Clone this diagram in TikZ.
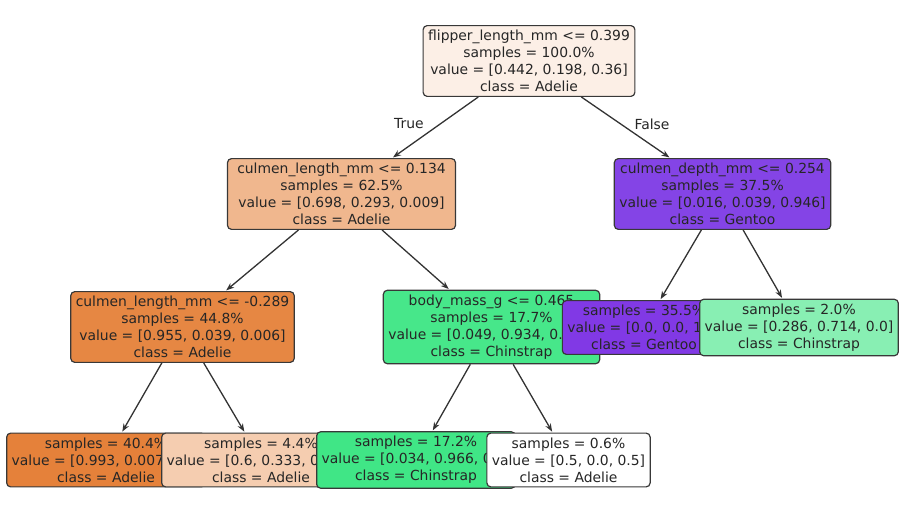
\documentclass[tikz,border=0pt]{standalone}
\usepackage{fontspec}
\setmainfont{DejaVu Sans}
\usetikzlibrary{arrows.meta}

\definecolor{boxline}{RGB}{56,56,56}
\definecolor{rootfill}{RGB}{252,239,230}
\definecolor{adeliemid}{RGB}{240,183,142}
\definecolor{adeliedark}{RGB}{230,135,67}
\definecolor{adeliefull}{RGB}{229,129,58}
\definecolor{adelielight}{RGB}{245,205,176}
\definecolor{gentoodark}{RGB}{132,68,230}
\definecolor{gentoofull}{RGB}{129,57,229}
\definecolor{chinstrapdark}{RGB}{71,231,138}
\definecolor{chinstrapfull}{RGB}{64,230,134}
\definecolor{chinstraplight}{RGB}{136,239,179}

\tikzset{
    treenode/.style={draw=boxline, line width=1.2pt, rounded corners=4pt,
        align=center, inner xsep=5pt, inner ysep=4.5pt,
        font=\fontsize{13.9}{17}\selectfont, text=black!85},
    treeedge/.style={draw=black!80, line width=1.3pt, -{Stealth[length=8pt,width=6pt]}, shorten >=1pt},
    edgelabel/.style={font=\fontsize{13.9}{17}\selectfont, text=black!85}
}

\begin{document}
\begin{tikzpicture}[x=1pt, y=-1pt]

        \useasboundingbox (0,0) rectangle (917,516);

        % tree nodes, drawn in preorder so that later boxes cover earlier ones
        \node[treenode, fill=rootfill] (root) at (529,61)
            {flipper\_length\_mm <= 0.399\\samples = 100.0\%\\value = [0.442, 0.198, 0.36]\\class = Adelie};

        \node[treenode, fill=adeliemid, minimum width=228pt] (left) at (341.5,194)
            {culmen\_length\_mm <= 0.134\\samples = 62.5\%\\value = [0.698, 0.293, 0.009]\\class = Adelie};

        \node[treenode, fill=adeliedark] (leftleft) at (182.5,327)
            {culmen\_length\_mm <= -0.289\\samples = 44.8\%\\value = [0.955, 0.039, 0.006]\\class = Adelie};

        \node[treenode, fill=adeliefull] (leaf1) at (106,460)
            {samples = 40.4\%\\value = [0.993, 0.007, 0.0]\\class = Adelie};

        \node[treenode, fill=adelielight] (leaf2) at (261,460)
            {samples = 4.4\%\\value = [0.6, 0.333, 0.067]\\class = Adelie};

        \node[treenode, fill=chinstrapdark] (leftright) at (491.5,327)
            {body\_mass\_g <= 0.465\\samples = 17.7\%\\value = [0.049, 0.934, 0.017]\\class = Chinstrap};

        \node[treenode, fill=chinstrapfull] (leaf3) at (416,460)
            {samples = 17.2\%\\value = [0.034, 0.966, 0.0]\\class = Chinstrap};

        \node[treenode, fill=white] (leaf4) at (568.5,460)
            {samples = 0.6\%\\value = [0.5, 0.0, 0.5]\\class = Adelie};

        \node[treenode, fill=gentoodark] (right) at (722.5,194)
            {culmen\_depth\_mm <= 0.254\\samples = 37.5\%\\value = [0.016, 0.039, 0.946]\\class = Gentoo};

        \node[treenode, fill=gentoofull] (leaf5) at (644,327.5)
            {samples = 35.5\%\\value = [0.0, 0.0, 1.0]\\class = Gentoo};

        \node[treenode, fill=chinstraplight] (leaf6) at (799,327.5)
            {samples = 2.0\%\\value = [0.286, 0.714, 0.0]\\class = Chinstrap};

        % edges
        \draw[treeedge] (root) -- (left);
        \draw[treeedge] (root) -- (right);
        \draw[treeedge] (left) -- (leftleft);
        \draw[treeedge] (left) -- (leftright);
        \draw[treeedge] (leftleft) -- (leaf1);
        \draw[treeedge] (leftleft) -- (leaf2);
        \draw[treeedge] (leftright) -- (leaf3);
        \draw[treeedge] (leftright) -- (leaf4);
        \draw[treeedge] (right) -- (leaf5);
        \draw[treeedge] (right) -- (leaf6);

        \node[edgelabel] (truelabel) at (409,124) {True};
        \node[edgelabel] (falselabel) at (652,124) {False};

    \end{tikzpicture}
\end{document}
